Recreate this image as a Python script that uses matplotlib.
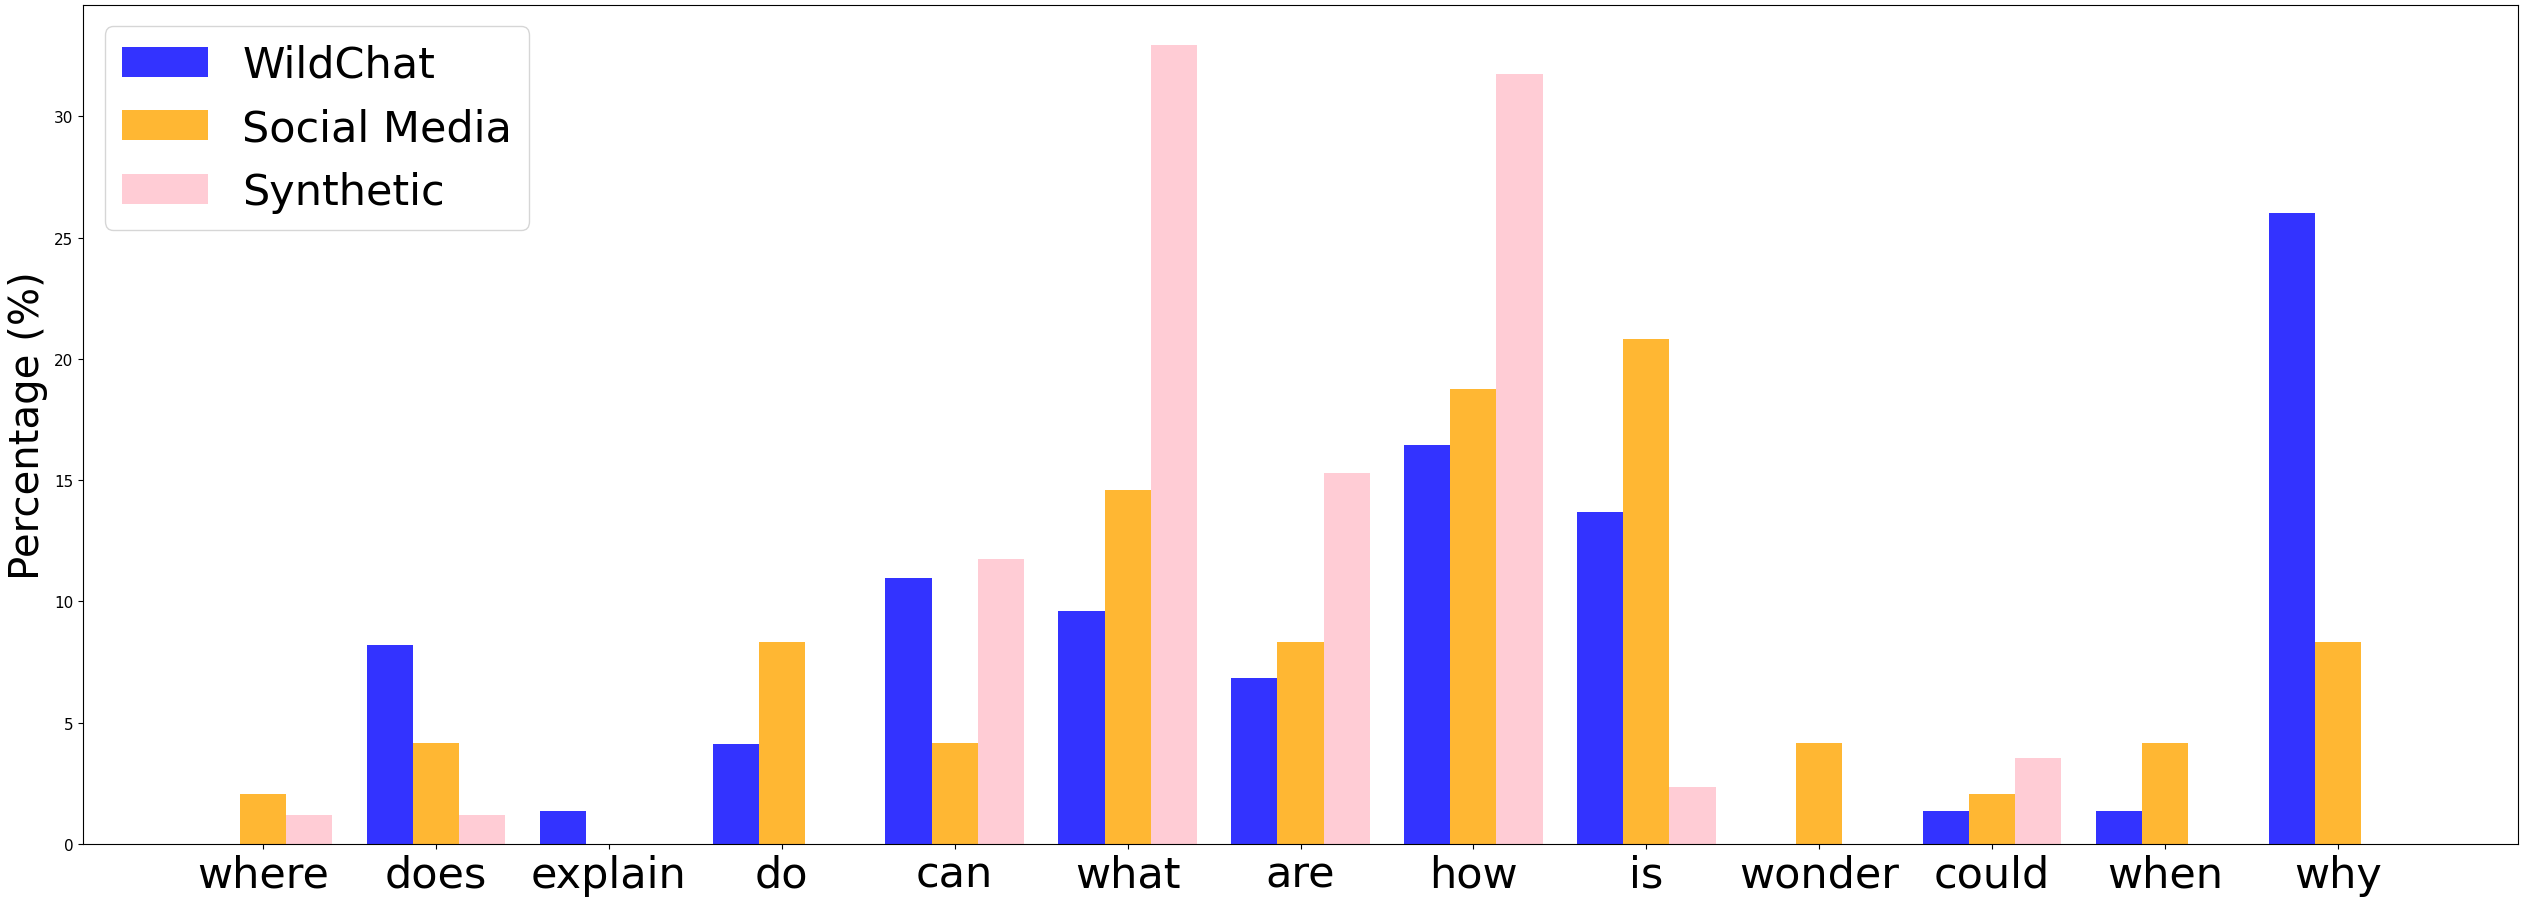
import numpy as np
import matplotlib
matplotlib.use('Agg')
import matplotlib.pyplot as plt

# Data (percent)
words = ['where', 'does', 'explain', 'do', 'can', 'what', 'are',
         'how', 'is', 'wonder', 'could', 'when', 'why']
wildchat = [0.0, 8.22, 1.37, 4.11, 10.96, 9.59, 6.85, 16.44, 13.70, 0.0, 1.37, 1.37, 26.03]
social_media = [2.08, 4.17, 0.0, 8.33, 4.17, 14.58, 8.33, 18.75, 20.83, 4.17, 2.08, 4.17, 8.33]
synthetic = [1.18, 1.18, 0.0, 0.0, 11.76, 32.94, 15.29, 31.76, 2.35, 0.0, 3.53, 0.0, 0.0]

x = np.arange(len(words))
width = 0.8 / 3

fig = plt.figure(figsize=(25.25, 9.04), dpi=100)
ax = fig.add_subplot(111)
fig.subplots_adjust(left=0.0329, right=0.9972, bottom=0.0653, top=0.9934)

ax.bar(x - width, wildchat, width, color='blue', alpha=0.8, label='WildChat')
ax.bar(x, social_media, width, color='orange', alpha=0.8, label='Social Media')
ax.bar(x + width, synthetic, width, color='pink', alpha=0.8, label='Synthetic')

ax.set_xticks(x)
ax.set_xticklabels(words, fontsize=31)
ax.tick_params(axis='y', labelsize=11)
ax.set_ylabel('Percentage (%)', fontsize=29)
ax.legend(loc='upper left', fontsize=31)

fig.savefig('out.png', dpi=100)
